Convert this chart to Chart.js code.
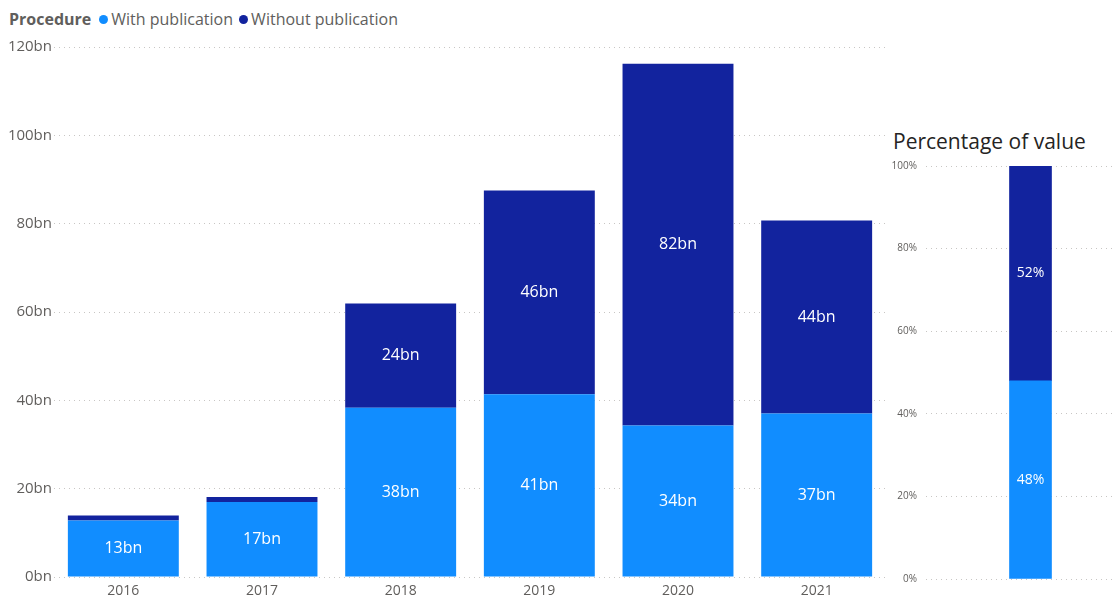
<!DOCTYPE html>
<html>
<head>
<meta charset="utf-8">
<script src="https://cdn.jsdelivr.net/npm/chart.js@4/dist/chart.umd.min.js"></script>
<style>
    body { margin: 0; width: 1115px; height: 598px; overflow: hidden; background: #fff; font-family: 'Open Sans', sans-serif; position: relative; }
    #legend { position: absolute; left: 9px; top: 8px; font-size: 16px; color: #605E5C; white-space: nowrap; }
    #legend b { color: #605E5C; margin-right: 6px; }
    #legend .dot { display: inline-block; width: 9px; height: 9px; border-radius: 50%; margin-right: 3px; margin-left: 2px; vertical-align: 1px; }
    #mainBox { position: absolute; left: 0; top: 0; width: 890px; height: 598px; }
    #pctTitle { position: absolute; left: 893px; top: 127px; font-size: 21px; color: #252423; font-family: 'Open Sans', sans-serif; }
    #pctBox { position: absolute; left: 880px; top: 0; width: 255px; height: 598px; }
</style>
</head>
<body>
<div id="legend"><b>Procedure</b><span class="dot" style="background:#118DFF"></span>With publication <span class="dot" style="background:#12239E"></span>Without publication</div>
<div id="mainBox"><canvas id="mainChart"></canvas></div>
<div id="pctTitle">Percentage of value</div>
<div id="pctBox"><canvas id="pctChart"></canvas></div>
<script>
const years = ['2016', '2017', '2018', '2019', '2020', '2021'];
const withPublication = [12.8, 17.0, 38.3, 41.4, 34.3, 37.0];
const withoutPublication = [1.1, 1.1, 23.6, 46.1, 81.9, 43.7];

const pctCategory = [''];
const pctWith = [48];
const pctWithout = [52];

const LIGHT = '#118DFF';
const DARK = '#12239E';
const GRID = '#C8C6C4';
const TICK = '#605E5C';

// draws a white value label in the middle of each bar segment
const segmentLabels = {
    id: 'segmentLabels',
    afterDatasetsDraw(chart, args, opts) {
        const ctx = chart.ctx;
        ctx.save();
        ctx.fillStyle = '#ffffff';
        ctx.font = opts.font || "15px 'Open Sans'";
        ctx.textAlign = 'center';
        ctx.textBaseline = 'middle';
        chart.data.datasets.forEach((ds, i) => {
            const meta = chart.getDatasetMeta(i);
            meta.data.forEach((bar, j) => {
                const h = Math.abs(bar.base - bar.y);
                if (h < 20) return;
                ctx.fillText(opts.format(ds.data[j]), bar.x, (bar.y + bar.base) / 2);
            });
        });
        ctx.restore();
    }
};

new Chart(document.getElementById('mainChart'), {
    type: 'bar',
    data: {
        labels: years,
        datasets: [
            { label: 'With publication', data: withPublication, backgroundColor: LIGHT, barPercentage: 0.8, categoryPercentage: 1 },
            { label: 'Without publication', data: withoutPublication, backgroundColor: DARK, barPercentage: 0.8, categoryPercentage: 1 }
        ]
    },
    options: {
        responsive: true,
        maintainAspectRatio: false,
        animation: false,
        layout: { padding: { top: 47, right: 4, left: 0, bottom: 0 } },
        plugins: {
            legend: { display: false },
            tooltip: { enabled: false },
            segmentLabels: { format: v => Math.round(v) + 'bn', font: "16px 'Open Sans'" }
        },
        scales: {
            x: {
                stacked: true,
                grid: { display: false, drawTicks: false },
                border: { display: false },
                ticks: { color: TICK, font: { family: 'Open Sans', size: 14 }, padding: 6 },
                afterFit(scale) { scale.height = 21; }
            },
            y: {
                stacked: true,
                min: 0,
                max: 120,
                ticks: { stepSize: 20, color: TICK, font: { family: 'Open Sans', size: 15 }, padding: 2, callback: v => v + 'bn' },
                grid: { color: GRID, drawTicks: false, lineWidth: 1 },
                border: { display: false, dash: [1, 4] },
                afterFit(scale) { scale.width = 54; }
            }
        }
    },
    plugins: [segmentLabels]
});

new Chart(document.getElementById('pctChart'), {
    type: 'bar',
    data: {
        labels: pctCategory,
        datasets: [
            { label: 'With publication', data: pctWith, backgroundColor: LIGHT, barThickness: 42 },
            { label: 'Without publication', data: pctWithout, backgroundColor: DARK, barThickness: 42 }
        ]
    },
    options: {
        responsive: true,
        maintainAspectRatio: false,
        animation: false,
        layout: { padding: { top: 166, right: 0, left: 0, bottom: 0 } },
        plugins: {
            legend: { display: false },
            tooltip: { enabled: false },
            segmentLabels: { format: v => v + '%', font: "14px 'Open Sans'" }
        },
        scales: {
            x: {
                stacked: true,
                grid: { display: false },
                border: { display: false },
                ticks: { display: false },
                afterFit(scale) { scale.height = 19; }
            },
            y: {
                stacked: true,
                min: 0,
                max: 100,
                ticks: { stepSize: 20, color: TICK, font: { family: 'Open Sans', size: 10 }, padding: 9, callback: v => v + '%' },
                grid: { color: GRID, drawTicks: false },
                border: { display: false, dash: [1, 4] },
                afterFit(scale) { scale.width = 46; }
            }
        }
    },
    plugins: [segmentLabels]
});
</script>
</body>
</html>
